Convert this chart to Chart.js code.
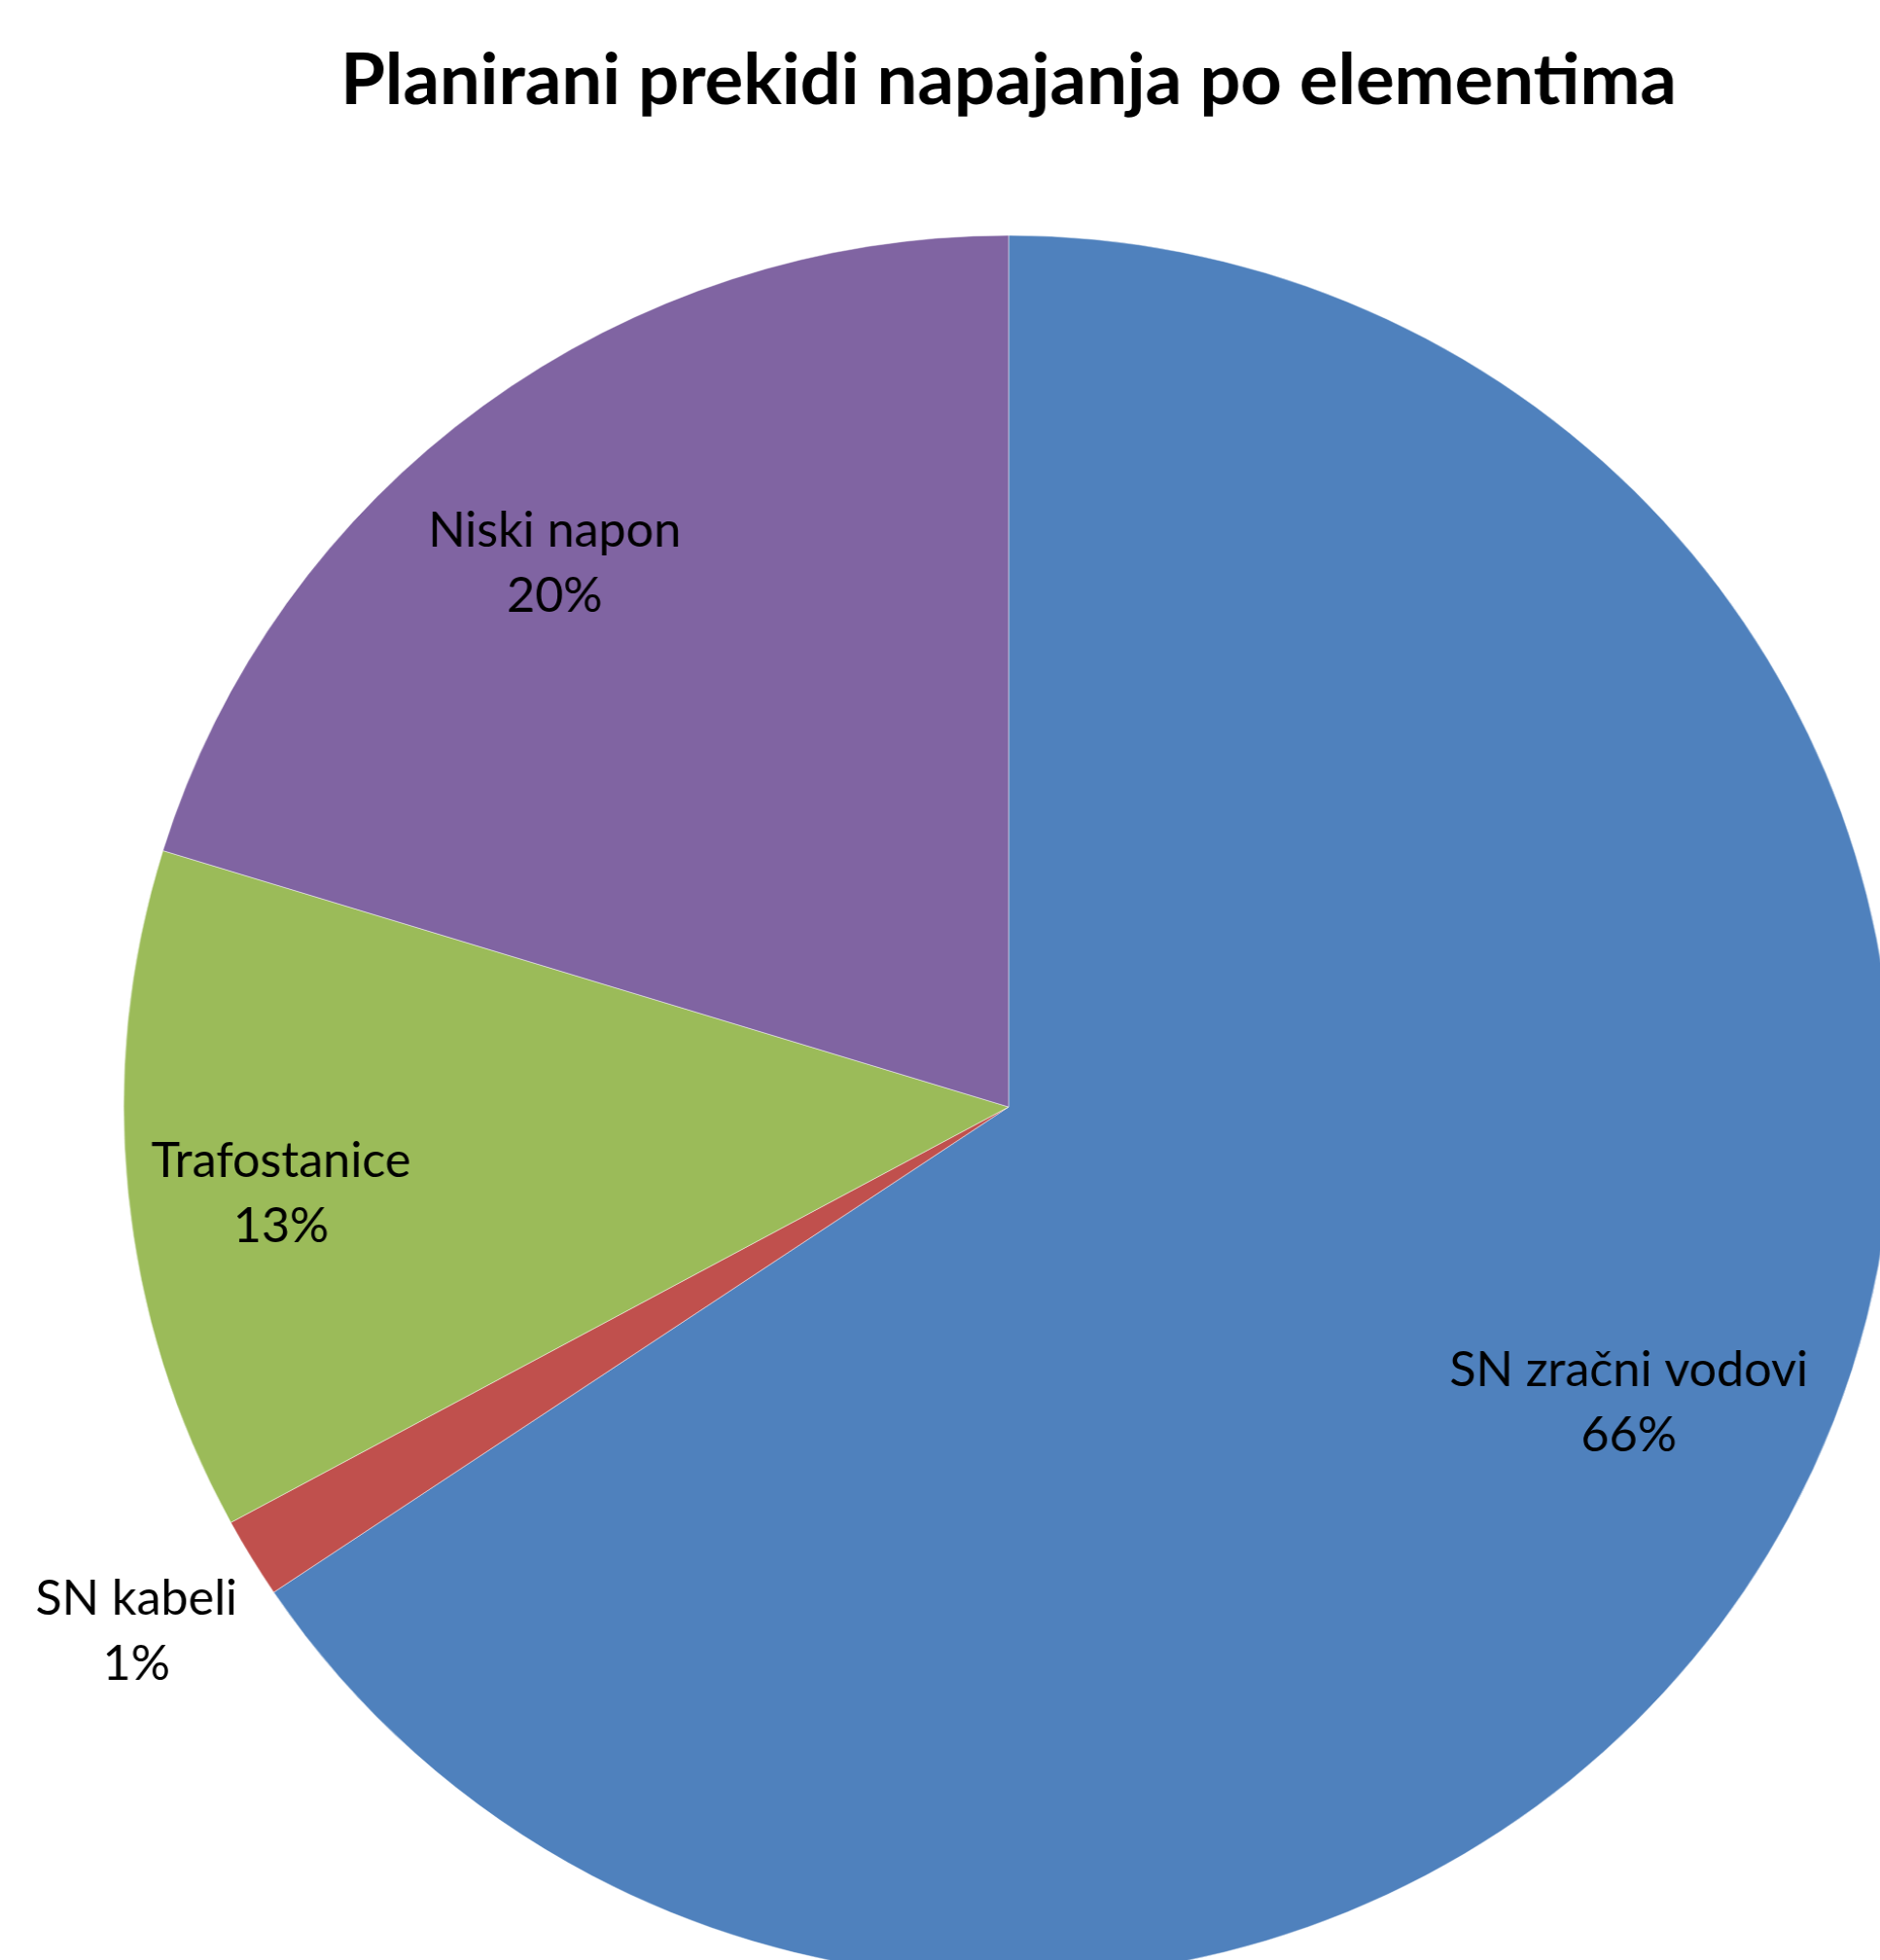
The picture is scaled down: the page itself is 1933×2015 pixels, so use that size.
<!DOCTYPE html>
<html><head><meta charset="utf-8">
<script src="https://cdn.jsdelivr.net/npm/chart.js@4.4.0/dist/chart.umd.min.js"></script>
<style>
html,body{margin:0;padding:0;background:#fff;overflow:hidden;width:1933px;height:2015px;}
#wrap{position:absolute;left:0;top:0;width:2074px;height:2034px;transform:scaleX(1.0153);transform-origin:1037px 0;}
</style></head><body>
<div id="wrap"><canvas id="c" width="2074" height="2034"></canvas></div>
<script>
// ---- data ----
const chartTitle = 'Planirani prekidi napajanja po elementima';
const categories = ['SN zračni vodovi', 'SN kabeli', 'Trafostanice', 'Niski napon'];
const shares = [65.6, 1.49, 12.66, 20.25];
const sliceColors = ['#4F81BD', '#C0504D', '#9BBB59', '#8064A2'];

// ---- style / layout ----
const STRETCH = 1.0153;
const CENTER_Y = 1138, RADIUS = 896;
const TITLE_BASELINE = 107;
const TITLE_WIDTH = 1374 / STRETCH;
const LABEL_REF_WIDTH = 369 / STRETCH;
const LABEL_LINE = 67;
const labelRadius = [0.778, 1.154, 0.828, 0.809];
const labelAngleFrac = [0.49, 0.47, 0.477, 0.46];
const FONT = 'Lato';

const mctx = document.createElement('canvas').getContext('2d');
function fitSize(text, weight, target) {
  mctx.font = weight + ' 100px ' + FONT;
  return 100 * target / mctx.measureText(text).width;
}
const titleSize = fitSize(chartTitle, 'bold', TITLE_WIDTH);
const labelSize = fitSize(categories[0], 'normal', LABEL_REF_WIDTH);

mctx.font = 'bold ' + titleSize + 'px ' + FONT;
mctx.textBaseline = 'middle';
const titleMidToBase = mctx.measureText('H').actualBoundingBoxDescent;
const titleLineH = titleSize * 1.2;
const titlePadTop = (TITLE_BASELINE - titleMidToBase) - titleLineH / 2;
const titlePadBottom = (CENTER_Y - RADIUS) - titlePadTop - titleLineH;

mctx.font = labelSize + 'px ' + FONT;
mctx.textBaseline = 'alphabetic';
const labelCapH = mctx.measureText('H').actualBoundingBoxAscent;

const labelPlugin = {
  id: 'sliceLabels',
  afterDatasetsDraw(chart) {
    const ctx = chart.ctx;
    const meta = chart.getDatasetMeta(0);
    ctx.save();
    ctx.font = labelSize + 'px ' + FONT;
    ctx.fillStyle = '#000';
    ctx.textAlign = 'center';
    ctx.textBaseline = 'alphabetic';
    meta.data.forEach((arc, i) => {
      const p = arc.getProps(['x', 'y', 'startAngle', 'endAngle', 'outerRadius'], true);
      const a = p.startAngle + (p.endAngle - p.startAngle) * labelAngleFrac[i];
      const r = p.outerRadius * labelRadius[i];
      const cx = p.x + Math.cos(a) * r, cy = p.y + Math.sin(a) * r;
      const b1 = cy + (labelCapH - LABEL_LINE) / 2;
      ctx.fillText(categories[i], cx, b1);
      ctx.fillText(Math.round(shares[i]) + '%', cx, b1 + LABEL_LINE);
    });
    ctx.restore();
  }
};

new Chart(document.getElementById('c'), {
  type: 'pie',
  data: {
    labels: categories,
    datasets: [{
      data: shares,
      backgroundColor: sliceColors,
      borderColor: 'rgba(255,255,255,0.45)',
      borderWidth: 1,
      hoverOffset: 0,
      offset: 0
    }]
  },
  options: {
    responsive: false,
    devicePixelRatio: 1,
    animation: false,
    events: [],
    radius: RADIUS,
    layout: { padding: 0 },
    plugins: {
      legend: { display: false },
      tooltip: { enabled: false },
      title: {
        display: true,
        text: chartTitle,
        color: '#000',
        font: { family: FONT, weight: 'bold', size: titleSize, lineHeight: 1.2 },
        padding: { top: titlePadTop, bottom: titlePadBottom }
      }
    }
  },
  plugins: [labelPlugin]
});
</script>
</body></html>
